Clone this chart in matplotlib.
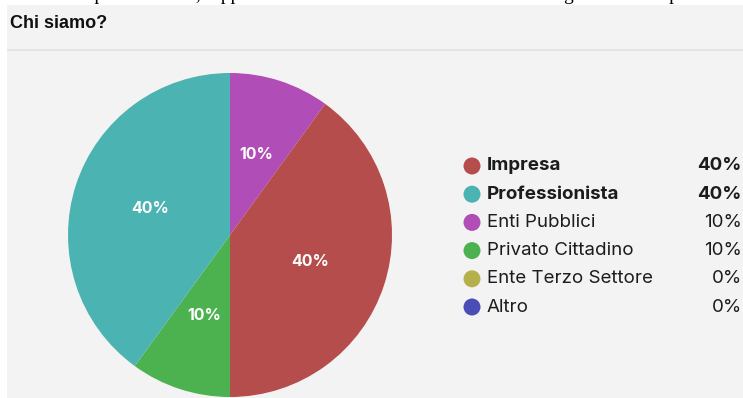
import matplotlib.pyplot as plt
from matplotlib.patches import Rectangle, Circle

# data
categories = ['Impresa', 'Professionista', 'Enti Pubblici', 'Privato Cittadino',
              'Ente Terzo Settore', 'Altro']
values = [40, 40, 10, 10, 0, 0]
colors = ['#b54d4c', '#4bb3b1', '#b04db6', '#4cb24f', '#b6b04c', '#4c4cb6']
# order of the slices clockwise from 12 o'clock
pie_order = ['Enti Pubblici', 'Impresa', 'Privato Cittadino', 'Professionista']

W, H = 743, 398
fig = plt.figure(figsize=(W / 100, H / 100), dpi=100)
fig.patch.set_facecolor('white')

# gray card behind the chart
fig.add_artist(Rectangle((7 / W, 0), 1, (H - 5) / H, transform=fig.transFigure,
                         facecolor='#f3f3f3', edgecolor='none', zorder=1))
fig.add_artist(Rectangle((7 / W, (H - 51) / H), 1, 2 / H, transform=fig.transFigure,
                         facecolor='#e5e5e5', edgecolor='none', zorder=1.5))

# cropped line of text above the card (only the descenders show)
fig.text(0, 1.0, 'ed anche impresa e i soci, rappresentanti delle associazioni locali '
         'di categoria e tutti i partner',
         family='Liberation Serif', fontsize=14, va='baseline', ha='left', color='black',
         zorder=0.5)

fig.text(10 / W, (H - 24) / H, 'Chi siamo?', family='Liberation Sans', fontweight='bold',
         fontsize=13, va='center', ha='left', color='#111111', zorder=2)

# pie
ax = fig.add_axes([68 / W, (H - 397) / H, 324 / W, 324 / H])
ax.set_zorder(3)
sizes = [values[categories.index(c)] for c in pie_order]
cols = [colors[categories.index(c)] for c in pie_order]
wedges, texts, autotexts = ax.pie(sizes, colors=cols, startangle=90, counterclock=False,
                                  autopct='%d%%', pctdistance=0.52, radius=1,
                                  wedgeprops=dict(linewidth=0))
for t in autotexts:
    t.set_color('white')
    t.set_fontweight('bold')
    t.set_fontsize(11.5)
    t.set_family('Inter')
ax.set_xlim(-1, 1)
ax.set_ylim(-1, 1)
ax.set_aspect('equal')
ax.axis('off')

# legend
y0 = 166
step = 28.2
top_val = max(values)
for i, (cat, val, col) in enumerate(zip(categories, values, colors)):
    ypx = H - (y0 + i * step)
    fig.add_artist(Circle((472 / 100, ypx / 100), 8.5 / 100, transform=fig.dpi_scale_trans,
                          facecolor=col, edgecolor='none', zorder=2))
    weight = 'bold' if val == top_val else 'normal'
    fig.text(487 / W, ypx / H, cat, family='Inter', fontsize=13.5, fontweight=weight,
             va='center', ha='left', color='#1c1c1c', zorder=2)
    fig.text(742 / W, ypx / H, f'{val}%', family='Inter', fontsize=13.5, fontweight=weight,
             va='center', ha='right', color='#1c1c1c', zorder=2)

fig.savefig('out.png', dpi=100, facecolor=fig.get_facecolor())
